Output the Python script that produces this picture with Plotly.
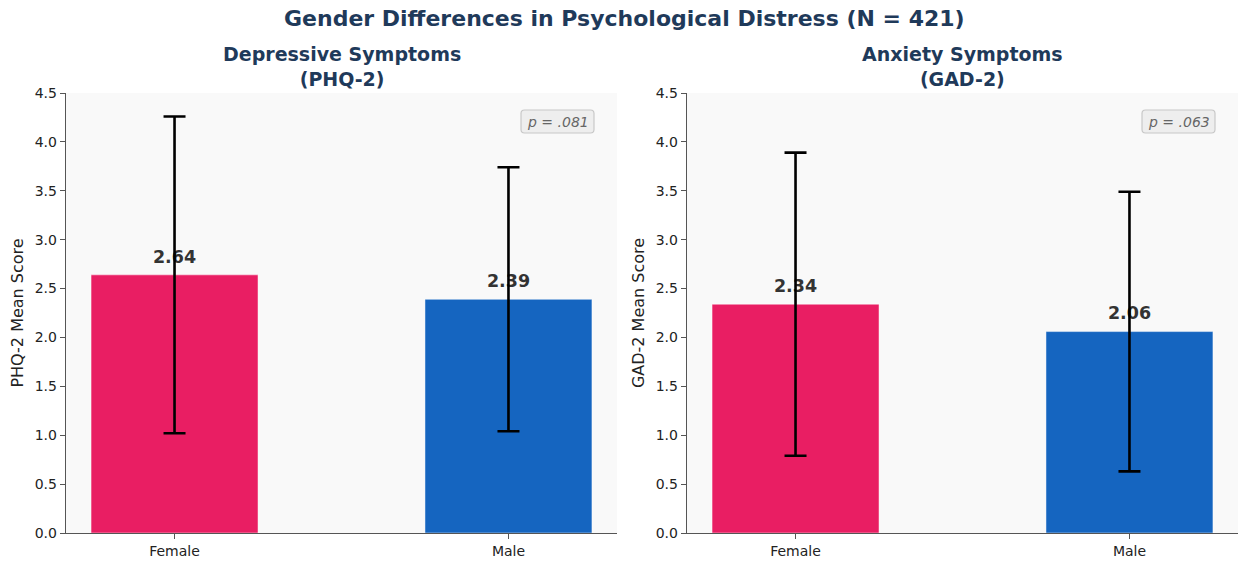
import plotly.graph_objects as go

categories = ["Female", "Male"]
phq_means = [2.64, 2.39]
phq_sd = [1.62, 1.35]
gad_means = [2.34, 2.06]
gad_sd = [1.55, 1.43]
p_values = ["p = .081", "p = .063"]
panel_titles = ["Depressive Symptoms<br>(PHQ-2)", "Anxiety Symptoms<br>(GAD-2)"]
y_titles = ["PHQ-2 Mean Score", "GAD-2 Mean Score"]
colors = ["#E91E63", "#1565C0"]
y_ticks = [0.0, 0.5, 1.0, 1.5, 2.0, 2.5, 3.0, 3.5, 4.0, 4.5]

W, H = 1239, 561
FONT = "DejaVu Sans"
NAVY = "#1f3a5a"

# plot area in window pixels
L, R, T, B = 66, 1238, 93, 533
PW, PH = R - L, B - T


def px(x):
    return (x - L) / PW


def py(y):
    return (B - y) / PH


fig = go.Figure()

panels = [(phq_means, phq_sd), (gad_means, gad_sd)]
xdomains = [[0, px(617)], [px(687), 1]]

for i, (means, sds) in enumerate(panels):
    xa = "x" if i == 0 else "x2"
    ya = "y" if i == 0 else "y2"
    fig.add_trace(go.Bar(
        x=[0, 1], y=means, width=0.5,
        marker=dict(color=colors, line=dict(color="rgba(255,255,255,0.6)", width=0.8)),
        xaxis=xa, yaxis=ya, showlegend=False, hoverinfo="skip",
    ))
    fig.add_trace(go.Scatter(
        x=[0, 1], y=[m + 0.08 for m in means], mode="text",
        text=[f"{m:.2f}" for m in means], textposition="top center",
        textfont=dict(family=FONT, size=17.5, color="#333333", weight="bold"),
        xaxis=xa, yaxis=ya, showlegend=False, hoverinfo="skip",
    ))
    fig.add_trace(go.Scatter(
        x=[0, 1], y=means, mode="markers",
        marker=dict(size=1, color="rgba(0,0,0,0)"),
        error_y=dict(type="data", array=sds, visible=True, color="#000000",
                     thickness=2.6, width=11),
        xaxis=xa, yaxis=ya, showlegend=False, hoverinfo="skip",
    ))

common_x = dict(
    range=[-0.325, 1.325], tickmode="array", tickvals=[0, 1], ticktext=categories,
    showline=True, linecolor="#555555", linewidth=1.3, ticks="outside", ticklen=5,
    tickcolor="#555555", showgrid=False, zeroline=False, automargin=False,
    tickfont=dict(family=FONT, size=14, color="#222222"), fixedrange=True,
)
common_y = dict(
    range=[0, 4.5], tickmode="array", tickvals=y_ticks,
    ticktext=[f"{t:.1f}" for t in y_ticks],
    showline=True, linecolor="#555555", linewidth=1.3, ticks="outside", ticklen=5,
    tickcolor="#555555", showgrid=False, zeroline=False, automargin=False,
    tickfont=dict(family=FONT, size=14, color="#222222"), fixedrange=True,
)
ytitle_font = dict(family=FONT, size=16, color="#222222")

fig.update_layout(
    template="none",
    width=W, height=H,
    margin=dict(l=L, r=W - R, t=T, b=H - B, autoexpand=False),
    paper_bgcolor="white", plot_bgcolor="#f9f9f9",
    xaxis=dict(common_x, domain=xdomains[0], anchor="y"),
    yaxis=dict(common_y, domain=[0, 1], anchor="x",
               title=dict(text=y_titles[0], font=ytitle_font, standoff=7)),
    xaxis2=dict(common_x, domain=xdomains[1], anchor="y2"),
    yaxis2=dict(common_y, domain=[0, 1], anchor="x2",
                title=dict(text=y_titles[1], font=ytitle_font, standoff=7)),
    bargap=0,
)

annotations = [
    dict(text="<b>Gender Differences in Psychological Distress (N = 421)</b>",
         x=px(624.5), y=py(18), xref="paper", yref="paper",
         xanchor="center", yanchor="middle", showarrow=False,
         font=dict(family=FONT, size=22, color=NAVY)),
]
shapes = []
title_cx = [341.5, 962.5]
box_left = [521, 1142]
for i in range(2):
    annotations.append(dict(
        text=f"<b>{panel_titles[i]}</b>", x=px(title_cx[i]), y=py(66.5),
        xref="paper", yref="paper", xanchor="center", yanchor="middle",
        showarrow=False, align="center",
        font=dict(family=FONT, size=19, color=NAVY)))
    x0, x1 = box_left[i], box_left[i] + 73
    y0, y1 = 110, 133
    r = 3.5
    path = (f"M {px(x0 + r)},{py(y0)} L {px(x1 - r)},{py(y0)} "
            f"Q {px(x1)},{py(y0)} {px(x1)},{py(y0 + r)} "
            f"L {px(x1)},{py(y1 - r)} Q {px(x1)},{py(y1)} {px(x1 - r)},{py(y1)} "
            f"L {px(x0 + r)},{py(y1)} Q {px(x0)},{py(y1)} {px(x0)},{py(y1 - r)} "
            f"L {px(x0)},{py(y0 + r)} Q {px(x0)},{py(y0)} {px(x0 + r)},{py(y0)} Z")
    shapes.append(dict(type="path", path=path, xref="paper", yref="paper",
                       fillcolor="#eeeeee", line=dict(color="#c8c8c8", width=1.2),
                       layer="above"))
    annotations.append(dict(
        text=f"<i>{p_values[i]}</i>", x=px((x0 + x1) / 2), y=py((y0 + y1) / 2),
        xref="paper", yref="paper", xanchor="center", yanchor="middle",
        showarrow=False, font=dict(family=FONT, size=14, color="#666666")))
fig.update_layout(annotations=annotations, shapes=shapes)

fig.write_html(
    "out.html",
    config={"displayModeBar": False, "staticPlot": True},
    post_script="document.body.style.margin='0';document.body.style.overflow='hidden';",
)
